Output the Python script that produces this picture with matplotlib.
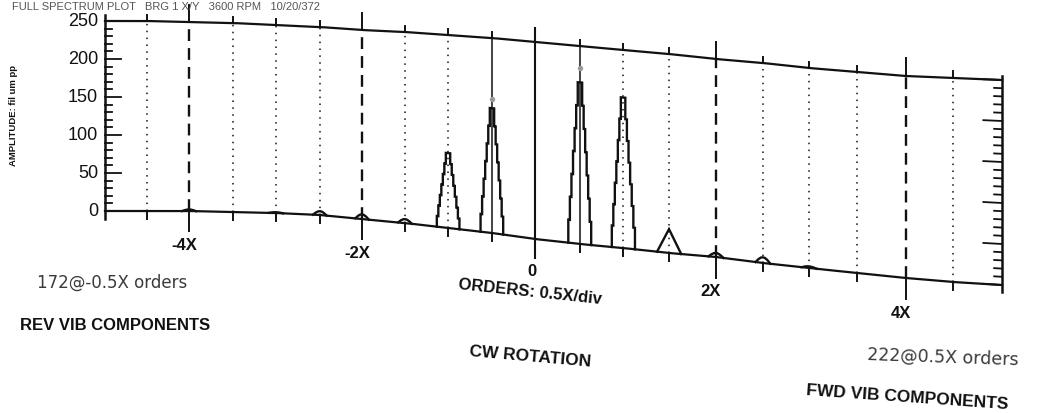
import numpy as np
import matplotlib
matplotlib.use("Agg")
from matplotlib import pyplot as plt
from matplotlib.transforms import Transform, Affine2D, offset_copy

W, H = 1037, 413

# full spectrum lines: order (X) and amplitude (um pp)
peak_orders = [-4.0, -3.0, -2.5, -2.0, -1.5, -1.0, -0.5, 0.5, 1.0, 1.5, 2.0, 2.5, 3.0]
peak_amps = [2, 1, 5, 6, 5, 97, 160, 204, 190, 30, 5, 7, 2]
cursor_orders = [-0.5, 0.5]
cursor_amps = [172, 222]
y_ticks = [0, 50, 100, 150, 200, 250]
x_major = [-4, -2, 2, 4]
x_major_labels = ["-4X", "-2X", "2X", "4X"]

# the scanned sheet is bent: where each order / edge lands on the page (px)
knot_orders = np.arange(-5, 5.01, 0.5)
knot_x = [105, 147, 189, 233, 276, 320, 362, 405, 448, 492, 535,
          580, 623, 669, 716, 763, 809, 857, 906, 953, 1002]
knot_bottom = [211, 211, 211, 212, 213, 215, 219, 223, 228, 233, 239,
               244, 248, 253, 257, 263, 268, 273, 278, 282, 285]
knot_top = [21, 21, 22, 23, 25, 27, 30, 32, 35, 38, 42,
            46, 50, 54, 59, 63, 68, 72, 76, 78, 80]


def lerp(o, xs, ys):
    o = np.asarray(o, dtype=float)
    xs = np.asarray(xs, dtype=float)
    ys = np.asarray(ys, dtype=float)
    out = np.interp(o, xs, ys)
    lo = o < xs[0]
    hi = o > xs[-1]
    out[lo] = ys[0] + (o[lo] - xs[0]) * (ys[1] - ys[0]) / (xs[1] - xs[0])
    out[hi] = ys[-1] + (o[hi] - xs[-1]) * (ys[-1] - ys[-2]) / (xs[-1] - xs[-2])
    return out


class SheetWarp(Transform):
    input_dims = 2
    output_dims = 2
    is_separable = False
    has_inverse = False

    def transform_non_affine(self, values):
        v = np.atleast_2d(np.asarray(values, dtype=float))
        o, a = v[:, 0], v[:, 1]
        px = lerp(o, knot_orders, knot_x)
        bot = lerp(o, knot_orders, knot_bottom)
        top = lerp(o, knot_orders, knot_top)
        py = bot - a / 250.0 * (bot - top)
        return np.column_stack([px, py])


def peak_shape(c, amp):
    if amp < 15:
        # little hump
        h = 0.08
        return ([c - h, c - h * 0.6, c - h * 0.25, c, c + h * 0.25, c + h * 0.6, c + h],
                [0, amp * 0.6, amp * 0.95, amp, amp * 0.95, amp * 0.6, 0])
    if amp < 50:
        h = 0.13
        return [c - h, c, c + h], [0, amp, 0]
    # staircase peak, narrowing to a short dark tip
    h, tip, n = 0.13, 0.025, 7
    halves = np.linspace(h, tip, n)
    lx, ly = [c - h], [0.0]
    for k in range(n):
        lx += [c - halves[k]]
        ly += [amp * (k + 1) / n]
        if k < n - 1:
            lx += [c - halves[k + 1]]
            ly += [amp * (k + 1) / n]
    rx = [2 * c - x for x in lx[::-1]]
    return lx + rx, ly + ly[::-1]


fig = plt.figure(figsize=(W / 100, H / 100), dpi=100)
ax = fig.add_axes([0, 0, 1, 1])
ax.set_axis_off()
pix = Affine2D().scale(1 / W, -1 / H).translate(0, 1) + fig.transFigure
T = SheetWarp() + pix

ink = "#111111"
font = ["Liberation Sans", "DejaVu Sans"]

# frame: baseline, top edge and the two side axes
dense = np.linspace(-5, 5, 301)
ax.plot(dense, np.zeros_like(dense), color=ink, lw=1.6, transform=T)
ax.plot(dense, np.full_like(dense, 250.0), color=ink, lw=1.6, transform=T)
ax.plot([-5, -5], [-10, 258], color=ink, lw=1.8, transform=T)
ax.plot([5, 5], [-8, 255], color=ink, lw=1.8, transform=T)

for v in range(0, 251, 10):
    ln = 0.19 if v % 50 == 0 else 0.08
    ax.plot([-5, -5 + ln], [v, v], color=ink, lw=1.3, transform=T)
    ax.plot([5, 5 - ln], [v, v], color=ink, lw=1.3, transform=T)

for v in y_ticks:
    ax.text(-5, v, str(v), transform=offset_copy(T, fig=fig, x=-7, y=0, units="dots"),
            ha="right", va="center", fontsize=13, family=font, color=ink)

# order ticks, grid and cursors
for o in knot_orders[1:-1]:
    o = round(float(o), 1)
    if o == 0:
        ax.plot([0, 0], [-24, 268], color=ink, lw=1.5, transform=T)
        continue
    major = o in x_major
    up = 22 if major else 8
    down = 26 if major else 10
    ax.plot([o, o], [250, 250 + up], color=ink, lw=1.4, transform=T)
    ax.plot([o, o], [0, -down], color=ink, lw=1.4, transform=T)
    if major:
        ax.plot([o, o], [0, 250], color=ink, lw=1.7, ls=(0, (5, 3)), transform=T)
    elif o in cursor_orders:
        ax.plot([o, o], [0, 252], color=ink, lw=1.1, transform=T)
    else:
        ax.plot([o, o], [0, 250], color=ink, lw=1.1, ls=(0, (1, 3.5)), transform=T)

for o, a in zip(peak_orders, peak_amps):
    px, py = peak_shape(o, a)
    ax.plot(px, py, color=ink, lw=1.7, solid_joinstyle="miter", transform=T)

ax.scatter(cursor_orders, cursor_amps, s=8, color="#9a9a9a", transform=T, zorder=3)

for o, lab in zip(x_major, x_major_labels):
    ax.text(o, 0, lab, transform=offset_copy(T, fig=fig, x=-5, y=-35, units="dots"),
            ha="center", va="center", fontsize=12, fontweight="bold", family=font, color=ink)
ax.text(0, 0, "0", transform=offset_copy(T, fig=fig, x=-3, y=-33, units="dots"),
        ha="center", va="center", fontsize=12, fontweight="bold", family=font, color=ink)

# page texts
ax.text(14, 115, "AMPLITUDE: fil um pp", transform=pix, rotation=90, ha="center", va="center",
        fontsize=6.8, fontweight="bold", family=font, color=ink)
ax.text(12, 10, "FULL SPECTRUM PLOT   BRG 1 X/Y   3600 RPM   10/20/372", transform=pix,
        ha="left", va="baseline", fontsize=8, family=font, color="#555555")
ax.text(37, 283, "172@-0.5X orders", transform=pix, ha="left", va="center",
        fontsize=12, family="DejaVu Sans", color="#3a3a3a")
ax.text(20, 326, "REV VIB COMPONENTS", transform=pix, ha="left", va="center",
        fontsize=12, fontweight="bold", family=font, color=ink)
ax.text(530, 292, "ORDERS: 0.5X/div", transform=pix, ha="center", va="center", rotation=-6,
        fontsize=12, fontweight="bold", family=font, color=ink)
ax.text(530, 357, "CW ROTATION", transform=pix, ha="center", va="center", rotation=-5,
        fontsize=12.5, fontweight="bold", family=font, color=ink)
ax.text(867, 357, "222@0.5X orders", transform=pix, ha="left", va="center", rotation=-2,
        fontsize=12.5, family="DejaVu Sans", color="#3a3a3a")
ax.text(907, 398, "FWD VIB COMPONENTS", transform=pix, ha="center", va="center", rotation=-4,
        fontsize=12.5, fontweight="bold", family=font, color=ink)

fig.savefig("out.png", dpi=100, facecolor="white")
